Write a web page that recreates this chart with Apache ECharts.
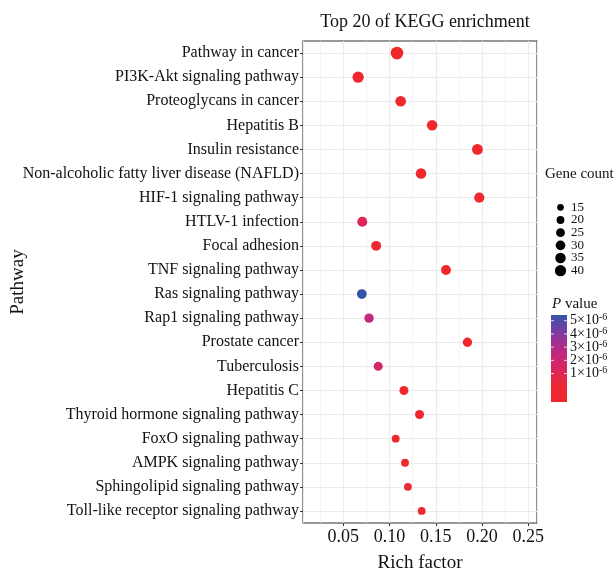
<!DOCTYPE html>
<html>
<head>
<meta charset="UTF-8">
<title>Top 20 of KEGG enrichment</title>
<script src="https://cdn.jsdelivr.net/npm/echarts@6/dist/echarts.min.js"></script>
<style>
  body { margin: 0; background: #fff; }
  #chart { width: 614px; height: 571px; }
</style>
</head>
<body>
<div id="chart"></div>
<script>
// values
var pathways = [
    'Pathway in cancer', 'PI3K-Akt signaling pathway', 'Proteoglycans in cancer', 'Hepatitis B',
    'Insulin resistance', 'Non-alcoholic fatty liver disease (NAFLD)', 'HIF-1 signaling pathway',
    'HTLV-1 infection', 'Focal adhesion', 'TNF signaling pathway', 'Ras signaling pathway',
    'Rap1 signaling pathway', 'Prostate cancer', 'Tuberculosis', 'Hepatitis C',
    'Thyroid hormone signaling pathway', 'FoxO signaling pathway', 'AMPK signaling pathway',
    'Sphingolipid signaling pathway', 'Toll-like receptor signaling pathway'
];
var richFactor = [0.108, 0.066, 0.112, 0.146, 0.195, 0.134, 0.197, 0.0705, 0.0855, 0.161,
    0.0700, 0.0778, 0.1842, 0.0877, 0.1155, 0.1324, 0.1066, 0.1167, 0.1198, 0.1347];
var geneCount = [50, 40, 36, 35, 37, 35, 33, 32, 31, 31, 30, 28, 28, 26, 26, 26, 20, 20, 20, 20];
var pValue = [2e-8, 5e-8, 8e-8, 1.2e-7, 6e-8, 1.5e-7, 1e-7, 1.9e-6, 2e-7, 1.8e-7,
    5.4e-6, 2.9e-6, 2.5e-7, 2.4e-6, 3e-7, 3.5e-7, 3.2e-7, 4e-7, 4.2e-7, 4.5e-7];

var sizeLegend = [15, 20, 25, 30, 35, 40];
var pTicks = [1e-6, 2e-6, 3e-6, 4e-6, 5e-6];
var pMax = 5.4e-6;
var barRange = [-1.15e-6, 5.43e-6];
var pColors = ['#f0282c', '#ec2838', '#da2660', '#b82a86', '#7e3aa2', '#3454a8'];

var font = 'Liberation Serif';
var ink = '#111';

function dotSize(n) {
    return Math.sqrt(3.31 * n - 4.8);
}

var gradStops = pColors.map(function (c, i) {
    return { offset: i / (pColors.length - 1), color: c };
});

var chart = echarts.init(document.getElementById('chart'), null, { renderer: 'canvas' });

var option = {
    backgroundColor: '#fff',
    animation: false,
    textStyle: { fontFamily: font, color: ink },
    title: [
        {
            text: 'Top 20 of KEGG enrichment',
            left: 420, top: 8, textAlign: 'center',
            textStyle: { fontFamily: font, fontSize: 18, fontWeight: 'normal', color: ink }
        },
        {
            text: 'Gene count',
            left: 540, top: 162,
            textStyle: { fontFamily: font, fontSize: 15, fontWeight: 'normal', color: ink }
        },
        {
            text: '{i|P} value',
            left: 547, top: 292,
            textStyle: {
                fontFamily: font, fontSize: 15, fontWeight: 'normal', color: ink,
                rich: { i: { fontFamily: font, fontSize: 15, fontStyle: 'italic', color: ink } }
            }
        }
    ],
    grid: [
        { left: 303, top: 41, width: 234, height: 482, show: true, outerBoundsMode: 'none',
          borderColor: '#333', borderWidth: 1.1, backgroundColor: 'transparent' },
        { left: 553, top: 201, width: 15, height: 76, outerBoundsMode: 'none' },
        { left: 551, top: 315, width: 16, height: 87, outerBoundsMode: 'none' }
    ],
    xAxis: [
        {
            gridIndex: 0, type: 'value',
            min: 0.0064, max: 0.2594, minInterval: 0.05, maxInterval: 0.05,
            axisLine: { show: false },
            axisTick: { show: true, length: 3, lineStyle: { color: '#333' } },
            axisLabel: {
                fontFamily: font, fontSize: 18, color: ink, margin: 5,
                showMinLabel: false, showMaxLabel: false,
                formatter: function (v) { return v.toFixed(2); }
            },
            splitLine: { show: true, lineStyle: { color: '#ebebeb', width: 1.1 } },
            name: 'Rich factor', nameLocation: 'middle', nameGap: 31,
            nameTextStyle: { fontFamily: font, fontSize: 19, color: ink }
        },
        {
            gridIndex: 0, type: 'value', position: 'top',
            min: 0.0064, max: 0.2594, minInterval: 0.025, maxInterval: 0.025,
            axisLine: { show: false }, axisTick: { show: false }, axisLabel: { show: false },
            splitLine: { show: true, lineStyle: { color: '#ebebeb', width: 0.6 } }
        },
        { gridIndex: 1, type: 'value', min: 0, max: 1, show: false },
        { gridIndex: 2, type: 'value', min: 0, max: 1, show: false }
    ],
    yAxis: [
        {
            gridIndex: 0, type: 'category', data: pathways, inverse: true,
            axisLine: { show: false },
            axisTick: { show: true, alignWithLabel: true, length: 3, lineStyle: { color: '#333' } },
            axisLabel: { fontFamily: font, fontSize: 16, color: ink, margin: 4, interval: 0 },
            splitLine: { show: true, alignWithLabel: true, lineStyle: { color: '#ebebeb', width: 1.1 } },
            name: 'Pathway', nameLocation: 'middle', nameGap: 275, nameMoveOverlap: false,
            nameTextStyle: { fontFamily: font, fontSize: 19, color: ink }
        },
        {
            gridIndex: 1, type: 'category', inverse: true, position: 'right',
            data: sizeLegend.map(String),
            axisLine: { show: false }, axisTick: { show: false },
            axisLabel: { fontFamily: font, fontSize: 13, color: ink, margin: 3, interval: 0 }
        },
        {
            gridIndex: 2, type: 'value', position: 'right',
            min: barRange[0], max: barRange[1], minInterval: 1e-6, maxInterval: 1e-6,
            axisLine: { show: false }, axisTick: { show: false }, splitLine: { show: false },
            axisLabel: {
                fontFamily: font, fontSize: 14, color: ink, margin: 3,
                showMinLabel: false, showMaxLabel: false,
                formatter: function (v) {
                    var n = Math.round(v * 1e6);
                    if (Math.abs(v * 1e6 - n) > 1e-3 || n < 1 || n > 5) return '';
                    return n + '×10{s|-6}';
                },
                rich: {
                    s: { fontFamily: font, fontSize: 10, color: ink, verticalAlign: 'top', padding: [0, 0, 6, 0] }
                }
            }
        }
    ],
    visualMap: {
        type: 'continuous', show: false, seriesIndex: 0, dimension: 3,
        min: 0, max: pMax, inRange: { color: pColors.slice() }
    },
    series: [
        {
            type: 'scatter', xAxisIndex: 0, yAxisIndex: 0,
            data: pathways.map(function (p, i) {
                return [richFactor[i], p, geneCount[i], pValue[i]];
            }),
            symbol: 'circle',
            symbolSize: function (v) { return dotSize(v[2]); },
            itemStyle: { opacity: 1 },
            z: 3
        },
        {
            type: 'scatter', xAxisIndex: 2, yAxisIndex: 1,
            data: sizeLegend.map(function (n) { return [0.5, String(n), n]; }),
            symbol: 'circle',
            symbolSize: function (v) { return dotSize(v[2]); },
            itemStyle: { color: '#000', opacity: 1 }
        },
        {
            // colour bar
            type: 'custom', xAxisIndex: 3, yAxisIndex: 2,
            data: [[0, barRange[0], barRange[1]]],
            renderItem: function (params, api) {
                var a = api.coord([0, api.value(2)]);
                var b = api.coord([1, api.value(1)]);
                return {
                    type: 'rect',
                    shape: { x: a[0], y: a[1], width: b[0] - a[0], height: b[1] - a[1] },
                    style: { fill: new echarts.graphic.LinearGradient(0, 1, 0, 0, gradStops) }
                };
            },
            silent: true
        },
        {
            // white ticks on the colour bar
            type: 'custom', xAxisIndex: 3, yAxisIndex: 2,
            data: pTicks.map(function (v) { return [0, v]; }),
            renderItem: function (params, api) {
                var l = api.coord([0, api.value(1)]);
                var r = api.coord([1, api.value(1)]);
                var st = { stroke: '#fff', lineWidth: 1, opacity: 0.8 };
                return {
                    type: 'group',
                    children: [
                        { type: 'line', shape: { x1: l[0], y1: l[1], x2: l[0] + 3, y2: l[1] }, style: st },
                        { type: 'line', shape: { x1: r[0] - 3, y1: r[1], x2: r[0], y2: r[1] }, style: st }
                    ]
                };
            },
            silent: true, z: 3
        }
    ]
};

chart.setOption(option);
</script>
</body>
</html>
